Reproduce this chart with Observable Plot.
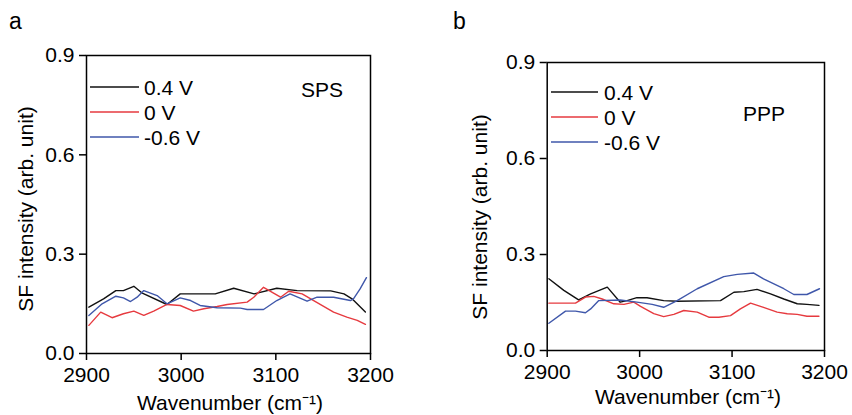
<!DOCTYPE html>
<html>
<head>
<meta charset="utf-8">
<script src="https://cdn.jsdelivr.net/npm/d3@7"></script>
<script src="https://cdn.jsdelivr.net/npm/@observablehq/plot@0.6"></script>
<style>
  html, body { margin: 0; padding: 0; background: #fff; }
  #root { position: relative; width: 852px; height: 415px; overflow: hidden; font-family: "Liberation Sans", Arial, sans-serif; }
  .panel { position: absolute; top: 0; }
  #overlay { position: absolute; left: 0; top: 0; pointer-events: none; }
</style>
</head>
<body>
<div id="root"></div>
<script>
// ---------- Data ----------
const seriesNames = ["0.4 V", "0 V", "-0.6 V"];
const seriesColors = ["#111111", "#e63a3f", "#3f57aa"];
const xTicks = [2900, 3000, 3100, 3200];
const yTicks = [0.0, 0.3, 0.6, 0.9];
const panelLetters = ["a", "b"];
const panelTags = ["SPS", "PPP"];
const xTitle = "Wavenumber (cm\u207B\u00B9)";
const yTitle = "SF intensity (arb. unit)";

// Panel a (SPS)
const spsPosX = [2902.5, 2918, 2931, 2939, 2950, 2959, 2985, 2999, 3036, 3055.5, 3077, 3101, 3122.5, 3158, 3172, 3180.5, 3194.6];
const spsPosY = [0.140, 0.165, 0.190, 0.190, 0.203, 0.182, 0.148, 0.180, 0.180, 0.197, 0.180, 0.197, 0.190, 0.189, 0.180, 0.165, 0.125];
const spsZeroX = [2902.5, 2915, 2927, 2939, 2950, 2960.5, 2971, 2985, 2999, 3013, 3024, 3038, 3048.6, 3069.7, 3076.7, 3087, 3105, 3113.6, 3127.8, 3140, 3161, 3175, 3186, 3194.6];
const spsZeroY = [0.085, 0.125, 0.108, 0.120, 0.128, 0.115, 0.128, 0.148, 0.145, 0.128, 0.135, 0.142, 0.148, 0.155, 0.170, 0.200, 0.170, 0.188, 0.180, 0.160, 0.125, 0.110, 0.100, 0.088];
const spsNegX = [2902.5, 2916.5, 2931, 2939, 2946.5, 2953.5, 2960.5, 2974.6, 2985, 2999, 3010, 3020, 3038, 3062.6, 3069.7, 3087, 3101, 3115, 3133, 3143.6, 3161, 3178.8, 3182, 3189, 3195.7];
const spsNegY = [0.115, 0.150, 0.173, 0.168, 0.157, 0.170, 0.190, 0.175, 0.150, 0.168, 0.160, 0.145, 0.138, 0.137, 0.133, 0.133, 0.160, 0.180, 0.158, 0.170, 0.170, 0.160, 0.165, 0.195, 0.229];

// Panel b (PPP)
const pppPosX = [2901.8, 2918, 2934, 2947, 2965, 2979, 2986.5, 2997, 3008, 3026, 3040.6, 3087.5, 3102, 3112.7, 3127, 3141.6, 3156, 3170.5, 3181, 3194];
const pppPosY = [0.224, 0.188, 0.158, 0.177, 0.198, 0.151, 0.156, 0.165, 0.165, 0.156, 0.154, 0.156, 0.182, 0.184, 0.191, 0.177, 0.161, 0.146, 0.144, 0.141];
const pppZeroX = [2901.8, 2930.6, 2941.4, 2950.4, 2959.5, 2972, 2983, 2993.7, 3001, 3015.3, 3026, 3037, 3047.8, 3062.3, 3074.8, 3085.7, 3098.3, 3109, 3120, 3134, 3148.8, 3159.7, 3170.5, 3181, 3194];
const pppZeroY = [0.148, 0.148, 0.167, 0.169, 0.161, 0.146, 0.144, 0.151, 0.138, 0.115, 0.106, 0.113, 0.125, 0.120, 0.104, 0.104, 0.109, 0.130, 0.148, 0.135, 0.120, 0.115, 0.113, 0.107, 0.107];
const pppNegX = [2901.8, 2919.8, 2930.6, 2941.4, 2947, 2955.8, 2979, 2997, 3013.6, 3026, 3040.6, 3062.3, 3091, 3105.6, 3123.5, 3134, 3156, 3166.8, 3181, 3194.6];
const pppNegY = [0.085, 0.123, 0.123, 0.118, 0.130, 0.156, 0.158, 0.151, 0.144, 0.135, 0.156, 0.193, 0.231, 0.238, 0.242, 0.224, 0.193, 0.175, 0.175, 0.193];

// ---------- Build ----------
function rows(xs, ys, name) { return xs.map((x, i) => ({ x, y: ys[i], series: name })); }

const panels = [
  {
    left: 0, width: 426, height: 415,
    marginLeft: 86, marginRight: 56, marginTop: 55, marginBottom: 62,
    data: [rows(spsPosX, spsPosY, seriesNames[0]), rows(spsZeroX, spsZeroY, seriesNames[1]), rows(spsNegX, spsNegY, seriesNames[2])],
    letter: panelLetters[0], letterPos: [9, 29],
    tag: panelTags[0], tagPos: [301, 97],
    legend: { x0: 90, x1: 139, tx: 144, ys: [87, 112, 137] },
    yTitlePos: [33, 209], xTitlePos: [230, 410]
  },
  {
    left: 426, width: 426, height: 415,
    marginLeft: 120.7, marginRight: 28, marginTop: 62, marginBottom: 65,
    data: [rows(pppPosX, pppPosY, seriesNames[0]), rows(pppZeroX, pppZeroY, seriesNames[1]), rows(pppNegX, pppNegY, seriesNames[2])],
    letter: panelLetters[1], letterPos: [453, 29],
    tag: panelTags[1], tagPos: [743, 121],
    legend: { x0: 551, x1: 598, tx: 604, ys: [92, 117, 142] },
    yTitlePos: [487, 217], xTitlePos: [688, 404]
  }
];

const root = document.getElementById("root");

panels.forEach(p => {
  const chart = Plot.plot({
    width: p.width,
    height: p.height,
    marginLeft: p.marginLeft,
    marginRight: p.marginRight,
    marginTop: p.marginTop,
    marginBottom: p.marginBottom,
    style: { fontSize: "21px", fontFamily: "'Liberation Sans', Arial, sans-serif", color: "#000", background: "transparent", overflow: "visible" },
    x: { domain: [2900, 3200], ticks: xTicks, label: null },
    y: { domain: [0, 0.9], ticks: yTicks, label: null },
    marks: [
      Plot.axisX({ ticks: xTicks, tickSize: 7, tickPadding: 7, tickFormat: d => String(d), strokeWidth: 1.5, label: null }),
      Plot.axisY({ ticks: yTicks, tickSize: 7, tickPadding: 5, tickFormat: d => d.toFixed(1), strokeWidth: 1.5, label: null }),
      ...p.data.map((d, i) => Plot.line(d, { x: "x", y: "y", stroke: seriesColors[i], strokeWidth: 1.4, curve: "linear" })),
      Plot.frame({ stroke: "#000", strokeWidth: 1.5 })
    ]
  });
  const div = document.createElement("div");
  div.className = "panel";
  div.style.left = p.left + "px";
  div.appendChild(chart);
  root.appendChild(div);
});

// Overlay: titles, legends, panel letters
const svg = d3.select(root).append("svg")
  .attr("id", "overlay")
  .attr("width", 852).attr("height", 415)
  .style("font-family", "'Liberation Sans', Arial, sans-serif");

panels.forEach(p => {
  svg.append("text").attr("x", p.letterPos[0]).attr("y", p.letterPos[1])
    .attr("font-size", 23).text(p.letter);
  svg.append("text").attr("x", p.tagPos[0]).attr("y", p.tagPos[1])
    .attr("font-size", 21).text(p.tag);
  svg.append("text")
    .attr("transform", `translate(${p.yTitlePos[0]},${p.yTitlePos[1]}) rotate(-90)`)
    .attr("text-anchor", "middle").attr("font-size", 21).text(yTitle);
  svg.append("text").attr("x", p.xTitlePos[0]).attr("y", p.xTitlePos[1])
    .attr("text-anchor", "middle").attr("font-size", 21).text(xTitle);
  seriesNames.forEach((name, i) => {
    const y = p.legend.ys[i];
    svg.append("line").attr("x1", p.legend.x0).attr("x2", p.legend.x1)
      .attr("y1", y).attr("y2", y).attr("stroke", seriesColors[i]).attr("stroke-width", 1.5);
    svg.append("text").attr("x", p.legend.tx).attr("y", y + 7.5)
      .attr("font-size", 21).text(name);
  });
});
</script>
</body>
</html>
